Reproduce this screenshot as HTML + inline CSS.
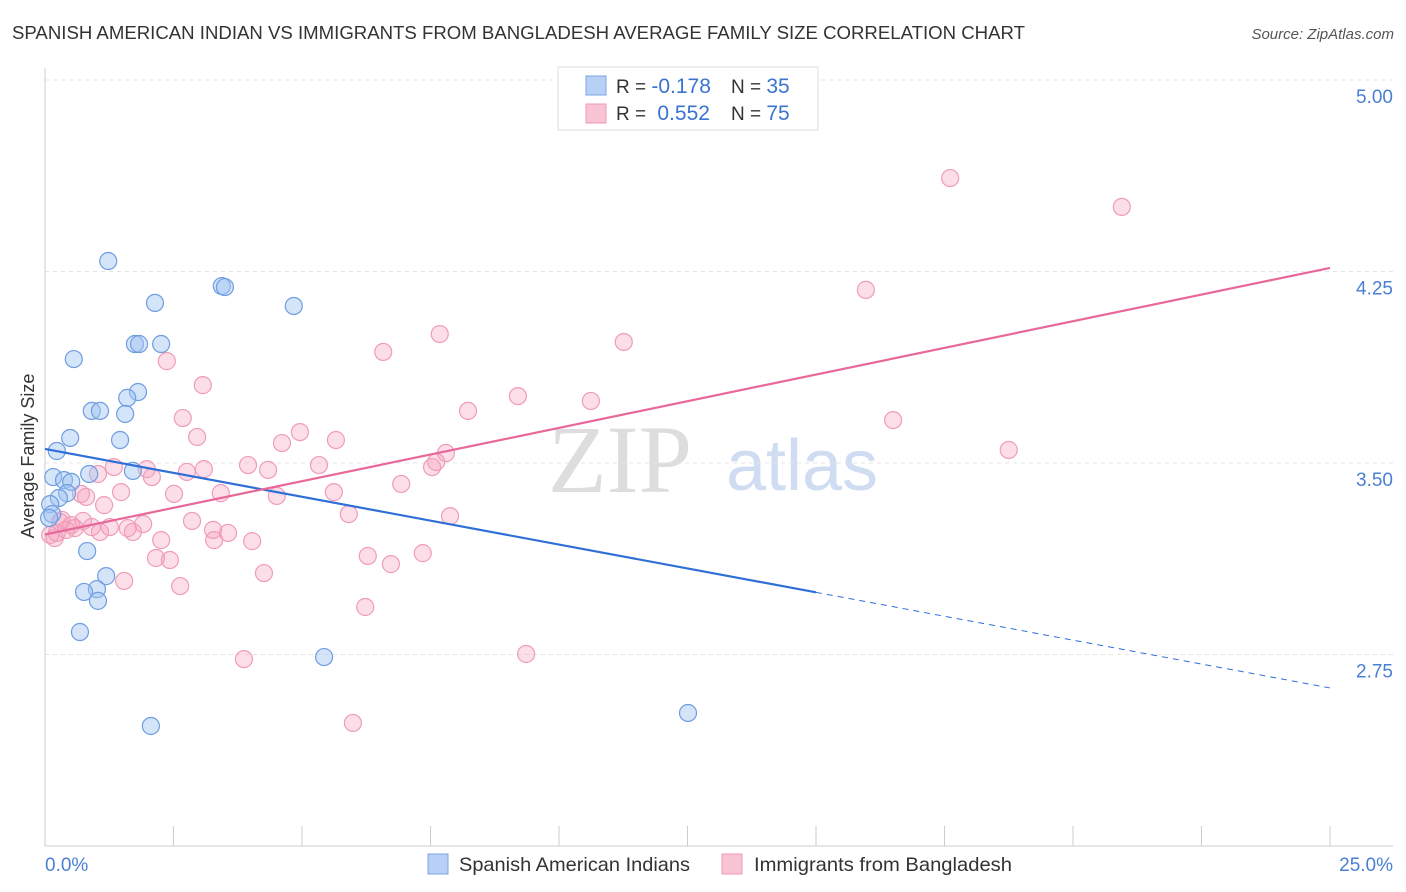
<!DOCTYPE html>
<html><head><meta charset="utf-8"><style>
body{margin:0;background:#fff;font-family:"Liberation Sans",sans-serif;}
svg{display:block}
</style></head><body>
<svg id="c" width="1406" height="892" viewBox="0 0 1406 892" xmlns="http://www.w3.org/2000/svg">
<text x="12" y="39" font-size="18" fill="#333" textLength="1013" lengthAdjust="spacingAndGlyphs">SPANISH AMERICAN INDIAN VS IMMIGRANTS FROM BANGLADESH AVERAGE FAMILY SIZE CORRELATION CHART</text>
<text x="1394" y="39" font-size="15" fill="#555" font-style="italic" text-anchor="end">Source: ZipAtlas.com</text>
<text x="0" y="0" transform="translate(34,456) rotate(-90)" font-size="18" fill="#333" text-anchor="middle">Average Family Size</text>
<text x="620" y="492" font-size="96" fill="#ddd" font-family="Liberation Serif,serif" text-anchor="middle">ZIP</text>
<text x="802" y="490" font-size="72" fill="#cfdcf2" text-anchor="middle">atlas</text>
<g id="grid"></g><g id="axes"></g><g id="pts"></g><g id="lines"></g>
<g>
<rect x="558" y="67" width="260" height="63" fill="#fff" stroke="#ddd"/>
<rect x="586" y="76" width="20" height="19" fill="#b8d0f5" stroke="#7aa5e0"/>
<rect x="586" y="104" width="20" height="19" fill="#f8c4d4" stroke="#ee9ab8"/>
<text x="616" y="93" font-size="19" fill="#333">R = <tspan fill="#3b73d1" font-size="21">-0.178</tspan></text>
<text x="731" y="93" font-size="19" fill="#333">N = <tspan fill="#3b73d1" font-size="21">35</tspan></text>
<text x="616" y="120" font-size="19" fill="#333">R = <tspan fill="#3b73d1" font-size="21" dx="6">0.552</tspan></text>
<text x="731" y="120" font-size="19" fill="#333">N = <tspan fill="#3b73d1" font-size="21">75</tspan></text>
</g>
<g>
<rect x="428" y="854" width="20" height="20" fill="#b8d0f5" stroke="#7aa5e0"/>
<text x="459" y="871" font-size="19.5" fill="#333" textLength="231" lengthAdjust="spacingAndGlyphs">Spanish American Indians</text>
<rect x="722" y="854" width="20" height="20" fill="#f8c4d4" stroke="#ee9ab8"/>
<text x="754" y="871" font-size="19.5" fill="#333" textLength="258" lengthAdjust="spacingAndGlyphs">Immigrants from Bangladesh</text>
</g>
</svg>
<script>
const yTicks=[2.75,3.50,4.25,5.00];
const xTickLabels=["0.0%","25.0%"];
const blueX=[1.23,2.14,3.44,3.50,4.84,0.56,1.75,1.83,2.26,1.81,1.60,0.91,1.07,1.56,0.49,1.46,0.23,0.86,1.71,0.16,0.37,0.51,0.43,0.27,0.10,0.14,0.08,0.82,1.19,1.01,0.76,1.03,0.68,5.43,2.06,12.51];
const blueY=[4.291,4.127,4.193,4.189,4.115,3.907,3.966,3.966,3.966,3.778,3.755,3.704,3.704,3.692,3.598,3.59,3.547,3.457,3.469,3.445,3.433,3.426,3.382,3.363,3.339,3.30,3.285,3.155,3.057,3.006,2.995,2.96,2.838,2.74,2.47,2.521];
const pinkX=[17.61,20.95,15.97,7.68,11.26,6.58,2.37,3.07,9.20,10.62,8.23,16.50,2.68,4.96,2.96,5.66,4.61,18.75,7.80,7.61,7.53,5.33,3.95,1.34,3.09,1.98,4.34,2.76,2.08,1.03,6.93,1.48,0.70,5.62,3.42,2.51,4.51,0.80,1.15,5.91,7.88,2.86,1.91,0.29,0.51,0.91,1.61,3.27,3.56,0.10,1.07,1.71,3.29,2.26,4.03,0.19,6.28,7.35,2.16,2.43,6.73,4.26,1.54,2.63,6.23,9.36,3.87,5.99,0.33,0.74,0.58,1.26,0.23,0.41];
const pinkY=[4.616,4.503,4.178,4.005,3.974,3.935,3.899,3.805,3.762,3.743,3.704,3.668,3.676,3.621,3.602,3.59,3.578,3.551,3.539,3.504,3.484,3.492,3.492,3.484,3.476,3.476,3.473,3.465,3.445,3.457,3.418,3.386,3.379,3.386,3.382,3.379,3.371,3.367,3.335,3.30,3.292,3.273,3.261,3.269,3.257,3.249,3.245,3.238,3.226,3.218,3.230,3.230,3.198,3.198,3.194,3.206,3.136,3.147,3.128,3.12,3.104,3.069,3.038,3.018,2.936,2.752,2.732,2.482,3.277,3.273,3.245,3.249,3.226,3.238];
const blueTrend=[3.555,2.619];
const pinkTrend=[3.22,4.264];
const blueSolidEnd=15;
const NS="http://www.w3.org/2000/svg";
const X=v=>45+v*(1330-45)/25;
const Y=v=>80+(5-v)*255.33;
function mk(t,a,p){const e=document.createElementNS(NS,t);for(const k in a)e.setAttribute(k,a[k]);document.getElementById(p).appendChild(e);return e;}
mk('line',{x1:45,y1:Y(5),x2:1393,y2:Y(5),stroke:'#e4e4e4','stroke-dasharray':'4,4'},'grid');
yTicks.forEach(v=>{
 const l=mk('line',{x1:45,y1:Y(v),x2:1393,y2:Y(v),stroke:'#e4e4e4','stroke-dasharray':'4,4'},'grid');
 
 
 const t=mk('text',{x:1393,y:Y(v)+23,'font-size':19,fill:'#4a7fd4','text-anchor':'end'},'axes');
 t.textContent=v.toFixed(2);
 
 
});
mk('line',{x1:45,y1:68,x2:45,y2:846,stroke:'#ccc'},'axes');
mk('line',{x1:45,y1:846,x2:1393,y2:846,stroke:'#ccc'},'axes');
for(let i=0;i<=10;i++){mk('line',{x1:X(i*2.5),y1:826,x2:X(i*2.5),y2:846,stroke:'#ccc'},'axes');}
[[0,'start',45],[25,'end',1393]].forEach((d,i)=>{
 const t=mk('text',{x:d[2],y:871,'font-size':19,fill:'#4a7fd4','text-anchor':d[1]},'axes');
 t.textContent=xTickLabels[i];
 
 
});
pinkX.forEach((x,i)=>{
 const c=mk('circle',{cx:X(x),cy:Y(pinkY[i]),r:8.5,fill:'rgba(245,160,190,0.35)',stroke:'#ef9cb9','stroke-width':1.2},'pts');
 
 
});
blueX.forEach((x,i)=>{
 const c=mk('circle',{cx:X(x),cy:Y(blueY[i]),r:8.5,fill:'rgba(160,195,242,0.45)',stroke:'#6f9de0','stroke-width':1.2},'pts');
 
 
});
const bAt=x=>blueTrend[0]+(blueTrend[1]-blueTrend[0])*x/25;
const l1=mk('line',{x1:X(0),y1:Y(bAt(0)),x2:X(blueSolidEnd),y2:Y(bAt(blueSolidEnd)),stroke:'#2f6fd6','stroke-width':2.2},'lines');


const l2=mk('line',{x1:X(blueSolidEnd),y1:Y(bAt(blueSolidEnd)),x2:X(25),y2:Y(bAt(25)),stroke:'#2f6fd6','stroke-width':1,'stroke-dasharray':'6,5'},'lines');


const l3=mk('line',{x1:X(0),y1:Y(pinkTrend[0]),x2:X(25),y2:Y(pinkTrend[1]),stroke:'#e8689a','stroke-width':2.2},'lines');


</script>
</body></html>
